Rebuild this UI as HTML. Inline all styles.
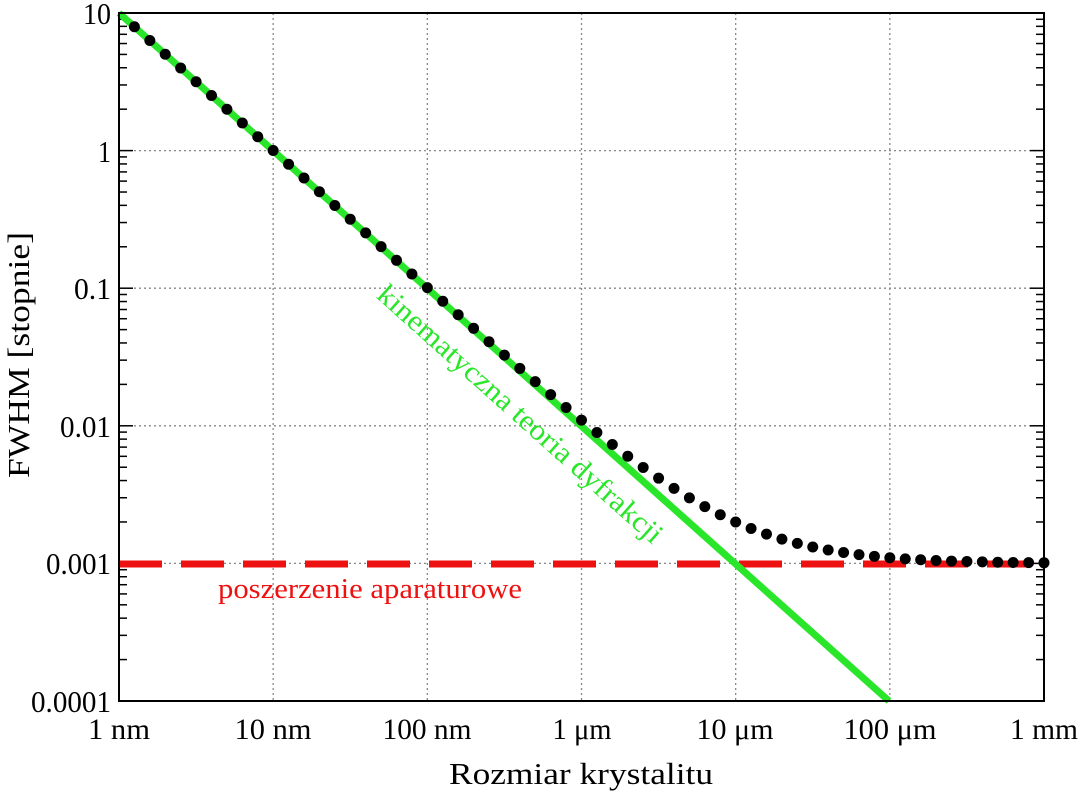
<!DOCTYPE html>
<html><head><meta charset="utf-8"><style>
html,body{margin:0;padding:0;background:#fff;}
svg{display:block;font-family:"Liberation Serif",serif;}
.y{font-size:31px;}
.x{font-size:30px;}
</style></head><body>
<svg id="s" width="1080" height="796" viewBox="0 0 1080 796" xmlns="http://www.w3.org/2000/svg">
<g id="grid" stroke="#888" stroke-width="1.3" stroke-dasharray="2 3"></g>
<g id="ticks" stroke="#000" stroke-width="1.5"></g>
<line x1="119" y1="564" x2="1044" y2="564" stroke="#ee1111" stroke-width="7" stroke-dasharray="43 19"/>
<line x1="119" y1="13" x2="889" y2="701" stroke="#2ae62a" stroke-width="7"/>
<g id="dots" fill="#000"></g>
<rect x="119" y="13" width="925" height="688" fill="none" stroke="#000" stroke-width="2"/>
<g text-anchor="end" fill="#000" lengthAdjust="spacingAndGlyphs">
<text class="y" x="111" y="24" textLength="28" lengthAdjust="spacingAndGlyphs">10</text>
<text class="y" x="111" y="162" textLength="13" lengthAdjust="spacingAndGlyphs">1</text>
<text class="y" x="111" y="299" textLength="37" lengthAdjust="spacingAndGlyphs">0.1</text>
<text class="y" x="111" y="437" textLength="51" lengthAdjust="spacingAndGlyphs">0.01</text>
<text class="y" x="111" y="574" textLength="65" lengthAdjust="spacingAndGlyphs">0.001</text>
<text class="y" x="111" y="712" textLength="80" lengthAdjust="spacingAndGlyphs">0.0001</text>
</g>
<g text-anchor="middle" fill="#000">
<text class="x" x="119" y="739" textLength="62" lengthAdjust="spacingAndGlyphs">1 nm</text>
<text class="x" x="273" y="739" textLength="77" lengthAdjust="spacingAndGlyphs">10 nm</text>
<text class="x" x="427" y="739" textLength="89" lengthAdjust="spacingAndGlyphs">100 nm</text>
<text class="x" x="582" y="739" textLength="59" lengthAdjust="spacingAndGlyphs">1 μm</text>
<text class="x" x="735" y="739" textLength="77" lengthAdjust="spacingAndGlyphs">10 μm</text>
<text class="x" x="890" y="739" textLength="93" lengthAdjust="spacingAndGlyphs">100 μm</text>
<text class="x" x="1044" y="739" textLength="68" lengthAdjust="spacingAndGlyphs">1 mm</text>
<text x="581" y="784" style="font-size:31px" textLength="264" lengthAdjust="spacingAndGlyphs">Rozmiar krystalitu</text>
<text x="0" y="0" style="font-size:31px" textLength="246" lengthAdjust="spacingAndGlyphs" transform="translate(29,355) rotate(-90)">FWHM [stopnie]</text>
<text x="370" y="598" style="font-size:29px" fill="#ee1111" textLength="304" lengthAdjust="spacingAndGlyphs">poszerzenie aparaturowe</text>
<text x="0" y="0" style="font-size:29px" fill="#2ae62a" textLength="372" lengthAdjust="spacingAndGlyphs" transform="translate(514,421) rotate(41.8)">kinematyczna teoria dyfrakcji</text>
</g>
</svg>
<script>
var ns="http://www.w3.org/2000/svg";
function el(p,t,a){var e=document.createElementNS(ns,t);for(var k in a)e.setAttribute(k,a[k]);document.getElementById(p).appendChild(e);}
var X0=119,DX=925/6,Y0=13,DY=688/5;
function X(l){return X0+l*DX;} function Y(l){return Y0+(1-l)*DY;}
for(var i=1;i<6;i++){el("grid","line",{x1:X(i),y1:13,x2:X(i),y2:701});}
for(var j=-3;j<1;j++){el("grid","line",{x1:119,y1:Y(j),x2:1044,y2:Y(j)});}
for(var j=-4;j<1;j++){for(var m=2;m<=9;m++){var y=Y(j+Math.log10(m));
el("ticks","line",{x1:119,y1:y,x2:127,y2:y});el("ticks","line",{x1:1036,y1:y,x2:1044,y2:y});}
if(j>-4&&j<1){var y=Y(j);el("ticks","line",{x1:119,y1:y,x2:133,y2:y});el("ticks","line",{x1:1030,y1:y,x2:1044,y2:y});}}
for(var k=1;k<=60;k++){var l=k/10;var v=10/Math.pow(10,l)+0.001;
el("dots","circle",{cx:X(l),cy:Y(Math.log10(v)),r:5.5});}
</script>
</body></html>
